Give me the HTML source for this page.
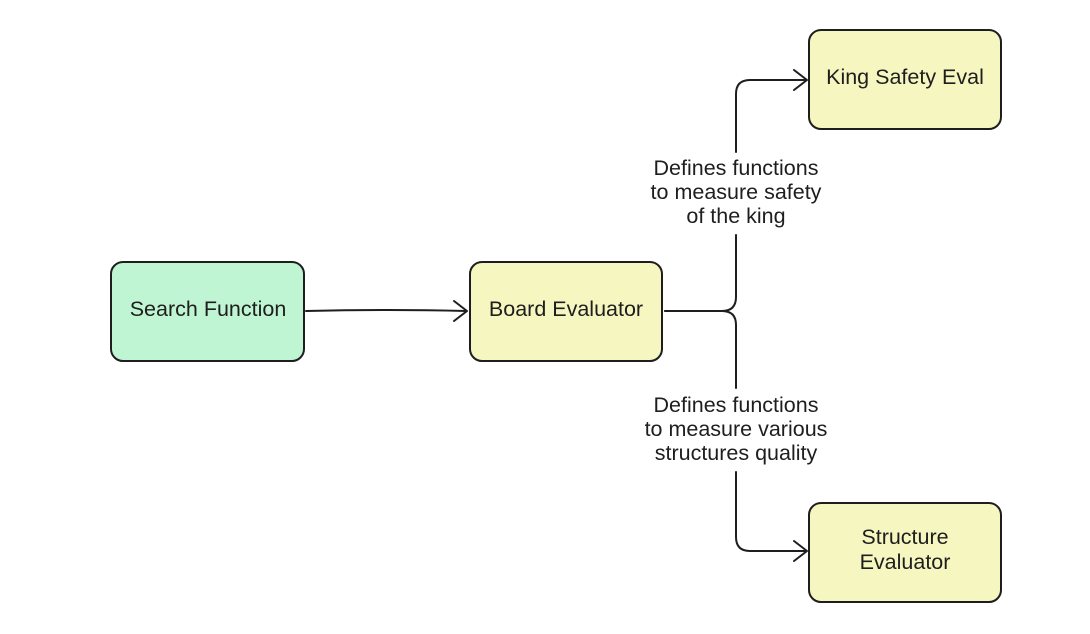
<!DOCTYPE html>
<html><head><meta charset="utf-8"><style>
html,body{margin:0;padding:0;background:#fff;width:1090px;height:634px;overflow:hidden}
svg{display:block}
text{font-family:"Liberation Sans",sans-serif;fill:#1e1e1e}
</style></head><body>
<svg width="1090" height="634" viewBox="0 0 1090 634" xmlns="http://www.w3.org/2000/svg">
<g stroke="#1e1e1e" stroke-width="2" fill="none" stroke-linecap="round" stroke-linejoin="round">
<rect x="111" y="262" width="193" height="99" rx="12" fill="#bff5d3"/>
<rect x="470" y="262" width="192" height="99" rx="12" fill="#f6f6c0"/>
<rect x="809" y="30" width="192" height="99" rx="12" fill="#f6f6c0"/>
<rect x="809" y="503" width="192" height="99" rx="12" fill="#f6f6c0"/>
<path d="M306 311 Q390 309 466 311"/>
<path d="M454 301 L467 311 L454 321"/>
<path d="M665 311 L722 311 Q736 311 736 297 L736 235"/>
<path d="M736 152 L736 94 Q736 80 750 80 L806 80"/>
<path d="M794 70 L807 80 L794 90"/>
<path d="M665 311 L722 311 Q736 311 736 325 L736 388"/>
<path d="M736 472 L736 537 Q736 551 750 551 L806 551"/>
<path d="M794 541 L807 551 L794 561"/>
</g>
<g font-size="21.5" text-anchor="middle">
<text x="208" y="316">Search Function</text>
<text x="566" y="316">Board Evaluator</text>
<text x="905" y="84">King Safety Eval</text>
<text x="905" y="544">Structure</text>
<text x="905" y="569">Evaluator</text>
<text x="736" y="175">Defines functions</text>
<text x="736" y="199">to measure safety</text>
<text x="736" y="223">of the king</text>
<text x="736" y="412">Defines functions</text>
<text x="736" y="436">to measure various</text>
<text x="736" y="460">structures quality</text>
</g>
</svg>
</body></html>
